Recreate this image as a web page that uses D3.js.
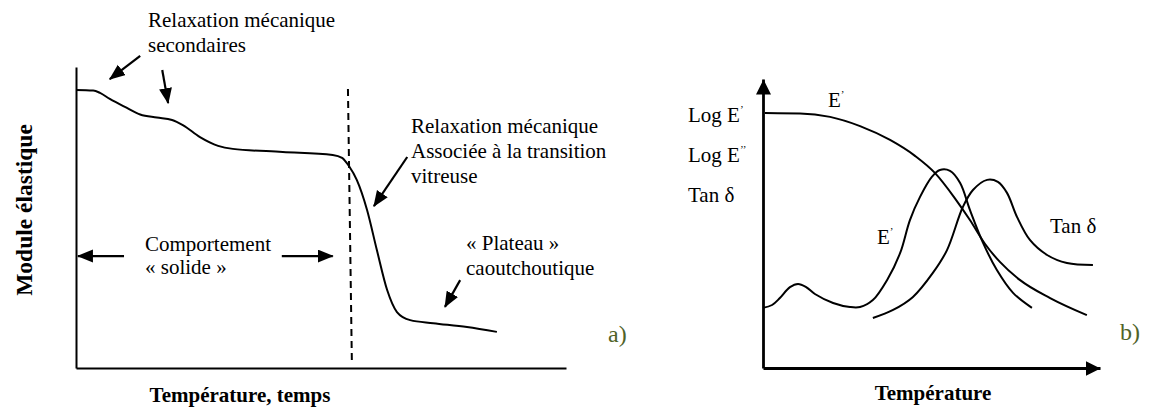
<!DOCTYPE html>
<html>
<head>
<meta charset="utf-8">
<script src="https://cdn.jsdelivr.net/npm/d3@7"></script>
<style>
  html, body { margin: 0; padding: 0; background: #fff; }
  svg { display: block; }
</style>
</head>
<body>
<svg id="chart" width="1153" height="409"></svg>
<script>
// ---- Panel a) : elastic modulus vs temperature / time (arbitrary units 0..100)
const moduleTemp  = [0, 3.5, 4.9, 6.9, 10.4, 13.1, 16.5, 19.6, 21.8, 25.3, 29.0, 32.0, 42.2, 52.4, 54.3, 55.7, 57.3, 59.4, 61.4, 63.5, 65.5, 68.2, 72.9, 79.8, 85.9];
const moduleValue = [92.4, 92.2, 91.4, 89.4, 86.4, 84.2, 83.2, 82.4, 80.7, 76.7, 73.8, 72.8, 71.8, 70.8, 69.8, 67.1, 62.5, 52.5, 39.2, 25.9, 18.6, 15.9, 14.9, 13.6, 12.0];
// glass transition marker (dashed)
const tgTemp  = [55.5, 56.3];
const tgValue = [92.7, 2.0];

// ---- Panel b) : dynamic mechanical curves vs temperature (arbitrary units 0..100)
const storageTemp  = [0.6, 11.0, 19.9, 28.8, 37.7, 45.1, 51.0, 56.9, 61.4, 65.9, 70.3, 76.3, 85.2, 96.1];
const storageValue = [88.2, 88.1, 86.9, 83.7, 78.9, 73.4, 67.5, 58.8, 51.2, 42.9, 36.7, 30.4, 24.2, 18.3];

const lossTemp  = [0, 2.7, 5.0, 8.0, 10.4, 12.8, 15.4, 20.8, 25.8, 28.8, 32.6, 36.8, 40.7, 43.6, 46.6, 50.1, 52.5, 55.5, 58.5, 61.4, 65.3, 69.4, 74.2, 79.8];
const lossValue = [20.8, 21.8, 24.2, 28.0, 29.1, 28.0, 25.6, 22.5, 21.1, 21.1, 23.5, 30.4, 39.8, 51.2, 59.2, 66.1, 68.5, 68.2, 64.0, 54.7, 43.3, 33.9, 26.0, 20.8];

const tanTemp  = [32.6, 38.6, 44.5, 50.4, 54.6, 59.3, 62.3, 66.5, 69.7, 72.4, 75.4, 79.2, 84.3, 90.2, 97.9];
const tanValue = [17.3, 20.1, 24.6, 32.9, 40.8, 55.7, 61.6, 65.1, 64.4, 60.6, 52.2, 44.3, 39.1, 36.3, 35.6];

// annotation arrows of panel a) in data units: [x1, y1, x2, y2] (head at x2,y2)
const arrowsA = [
  [13.1, 103.7, 6.9, 96.0],
  [17.6, 99.0, 18.8, 88.0],
  [67.6, 70.1, 60.8, 53.8],
  [78.4, 29.2, 75.3, 20.3],
  [9.8, 37.2, 0.4, 37.2],
  [42.0, 37.2, 52.4, 37.2]
];

const SERIF = "'Liberation Serif', 'Times New Roman', Times, serif";

const svg = d3.select("#chart").attr("font-family", SERIF);
const zip = (xs, ys) => xs.map((x, i) => [x, ys[i]]);

// arrowhead markers
const defs = svg.append("defs");
defs.append("marker")
  .attr("id", "head").attr("markerUnits", "userSpaceOnUse")
  .attr("markerWidth", 17).attr("markerHeight", 14)
  .attr("refX", 15).attr("refY", 6.5).attr("orient", "auto")
  .append("path").attr("d", "M0,0 L16,6.5 L0,13 Z").attr("fill", "#000");
defs.append("marker")
  .attr("id", "axisHead").attr("markerUnits", "userSpaceOnUse")
  .attr("markerWidth", 17).attr("markerHeight", 16)
  .attr("refX", 15).attr("refY", 7.5).attr("orient", "auto")
  .append("path").attr("d", "M0,0 L15,7.5 L0,15 Z").attr("fill", "#000");

function label(g, x, y, size) {
  return g.append("text").attr("x", x).attr("y", y)
    .attr("font-family", SERIF).attr("font-size", size).attr("fill", "#000");
}

// ================= Panel a) =================
const xL = d3.scaleLinear().domain([0, 100]).range([76, 566]);
const yL = d3.scaleLinear().domain([0, 100]).range([368, 67]);

const gA = svg.append("g");

gA.append("g").attr("transform", `translate(0,${yL(0)})`)
  .call(d3.axisBottom(xL).ticks(0).tickSizeOuter(0))
  .call(g => g.select(".domain").attr("stroke", "#000").attr("stroke-width", 2));
gA.append("g").attr("transform", `translate(${xL(0)},0)`)
  .call(d3.axisLeft(yL).ticks(0).tickSizeOuter(0))
  .call(g => g.select(".domain").attr("stroke", "#000").attr("stroke-width", 2));

const lineL = d3.line().x(d => xL(d[0])).y(d => yL(d[1])).curve(d3.curveMonotoneX);
gA.append("path").datum(zip(moduleTemp, moduleValue))
  .attr("d", lineL).attr("fill", "none").attr("stroke", "#000").attr("stroke-width", 2);

gA.append("path").datum(zip(tgTemp, tgValue))
  .attr("d", d3.line().x(d => xL(d[0])).y(d => yL(d[1])))
  .attr("fill", "none").attr("stroke", "#000").attr("stroke-width", 2)
  .attr("stroke-dasharray", "7,5");

gA.selectAll("line.ann").data(arrowsA).join("line")
  .attr("class", "ann")
  .attr("x1", d => xL(d[0])).attr("y1", d => yL(d[1]))
  .attr("x2", d => xL(d[2])).attr("y2", d => yL(d[3]))
  .attr("stroke", "#000").attr("stroke-width", 2.2)
  .attr("marker-end", "url(#head)");

function lines(g, x, y0, step, rows, size) {
  const t = label(g, x, y0, size);
  rows.forEach((r, i) => t.append("tspan").attr("x", x).attr("y", y0 + i * step).text(r));
  return t;
}

lines(gA, 148, 27, 25, ["Relaxation mécanique", "secondaires"], 21);
lines(gA, 411, 133, 25, ["Relaxation mécanique", "Associée à la transition", "vitreuse"], 21);
lines(gA, 466, 250, 25, ["« Plateau »", "caoutchoutique"], 21);
lines(gA, 145, 251, 23, ["Comportement", "« solide »"], 21);

label(gA, 608, 342, 24).attr("fill", "#4f6228").text("a)");

label(gA, 240, 402, 21).attr("text-anchor", "middle")
  .attr("font-weight", "bold").text("Température, temps");

label(gA, 0, 0, 23.5).attr("transform", "translate(32,210) rotate(-90)")
  .attr("text-anchor", "middle").attr("font-weight", "bold")
  .text("Module élastique");

// ================= Panel b) =================
const xR = d3.scaleLinear().domain([0, 100]).range([763, 1100]);
const yR = d3.scaleLinear().domain([0, 100]).range([368, 79]);

const gB = svg.append("g");

gB.append("g").attr("transform", `translate(0,${yR(0)})`)
  .call(d3.axisBottom(xR).ticks(0).tickSizeOuter(0))
  .call(g => g.select(".domain").attr("stroke", "#000").attr("stroke-width", 2.8)
    .attr("marker-end", "url(#axisHead)"));
gB.append("g").attr("transform", `translate(${xR(0)},0)`)
  .call(d3.axisLeft(yR).ticks(0).tickSizeOuter(0))
  .call(g => g.select(".domain").attr("stroke", "#000").attr("stroke-width", 2.8)
    .attr("marker-end", "url(#axisHead)"));

const lineSmooth = d3.line().x(d => xR(d[0])).y(d => yR(d[1])).curve(d3.curveMonotoneX);
const linePeak = d3.line().x(d => xR(d[0])).y(d => yR(d[1])).curve(d3.curveCatmullRom.alpha(0.5));

gB.append("path").datum(zip(storageTemp, storageValue))
  .attr("d", lineSmooth).attr("fill", "none").attr("stroke", "#000").attr("stroke-width", 2);
[[lossTemp, lossValue], [tanTemp, tanValue]].forEach(([xs, ys]) => {
  gB.append("path").datum(zip(xs, ys))
    .attr("d", linePeak).attr("fill", "none").attr("stroke", "#000").attr("stroke-width", 2);
});

function withPrime(g, x, y, base, prime) {
  const t = label(g, x, y, 21);
  t.append("tspan").text(base);
  t.append("tspan").attr("font-size", 11).attr("dy", -9).text(prime);
  return t;
}

withPrime(gB, 688, 122, "Log E", "’");
withPrime(gB, 688, 162, "Log E", "’’");
label(gB, 688, 202, 21).text("Tan δ");

withPrime(gB, 828, 107, "E", "’");
withPrime(gB, 877, 244, "E", "’");
label(gB, 1050, 233, 21).text("Tan δ");

label(gB, 1120, 340, 24).attr("fill", "#4f6228").text("b)");

label(gB, 933, 400, 21).attr("text-anchor", "middle")
  .attr("font-weight", "bold").text("Température");
</script>
</body>
</html>
